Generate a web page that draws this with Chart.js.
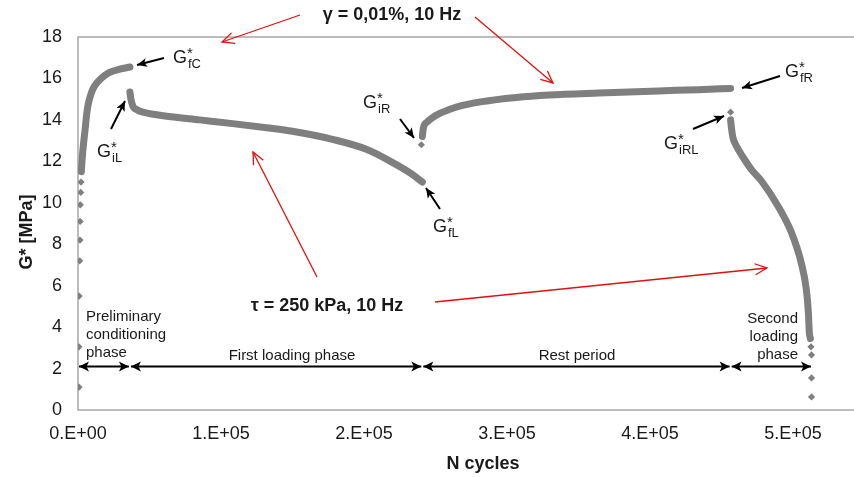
<!DOCTYPE html>
<html>
<head>
<meta charset="utf-8">
<script src="https://cdn.jsdelivr.net/npm/chart.js@4.4.0/dist/chart.umd.min.js"></script>
<style>
  html, body { margin: 0; padding: 0; background: #fff; overflow: hidden; }
  #wrap { width: 858px; height: 477px; position: relative; }
</style>
</head>
<body>
<div id="wrap"><canvas id="chart"></canvas></div>
<script>
// --- data (N cycles / G* MPa) ---
const xTickValues = [0, 100000, 200000, 300000, 400000, 500000];
const xTickLabels = ['0.E+00', '1.E+05', '2.E+05', '3.E+05', '4.E+05', '5.E+05'];
const xMax = 542700;

// preliminary conditioning: loose first points, then the dense climb
const nCondSparse = [700, 700, 800, 1200, 1400, 1500, 1600, 1900, 2100, 2300];
const gCondSparse = [1.1, 3.05, 5.5, 7.2, 8.2, 9.1, 9.9, 10.5, 11.0, 11.5];
const nCond = [2300, 2800, 3500, 4900, 6300, 7300, 8400, 10500, 12800, 15400, 18800, 22300, 29300, 36300];
const gCond = [11.5, 12.0, 12.6, 13.5, 14.4, 14.8, 15.1, 15.5, 15.75, 15.95, 16.15, 16.3, 16.45, 16.55];

// first loading phase
const nLoad1 = [36300, 37000, 38400, 41000, 45400, 55000, 62100, 85100, 108200, 131900, 150000, 178000, 201700, 219800, 233800, 240800];
const gLoad1 = [15.35, 15.0, 14.66, 14.5, 14.37, 14.25, 14.18, 14.0, 13.82, 13.62, 13.45, 13.06, 12.58, 11.95, 11.37, 11.0];

// rest period
const nRestFirst = [240100];
const gRestFirst = [12.8];
const nRest = [240800, 241500, 244200, 247700, 252600, 259600, 264500, 282600, 306400, 329400, 364300, 406100, 434000, 456400];
const gRest = [13.2, 13.6, 13.9, 14.1, 14.3, 14.5, 14.62, 14.88, 15.08, 15.2, 15.3, 15.4, 15.46, 15.52];

// second loading phase
const nLoad2First = [456400];
const gLoad2First = [14.37];
const nLoad2 = [456400, 457000, 458000, 460000, 462000, 466000, 471000, 478000, 489900, 499000, 505800, 509400, 510800, 511500, 512200];
const gLoad2 = [14.0, 13.6, 13.15, 12.8, 12.55, 12.1, 11.6, 11.05, 9.8, 8.56, 7.1, 5.8, 4.7, 3.7, 3.45];
const nLoad2Tail = [512600, 513000, 513000, 513000];
const gLoad2Tail = [3.05, 2.66, 1.55, 0.63];

// phase boundaries for the double arrows
const phaseBounds = [0, 36300, 240800, 456400, 513300];
const phaseArrowG = 2.1;

const grey = '#7f7f7f';
const pts = (xs, ys) => xs.map((x, i) => ({ x: x, y: ys[i] }));

const curve = (xs, ys) => ({
    data: pts(xs, ys),
    showLine: true,
    borderColor: grey,
    borderWidth: 7,
    cubicInterpolationMode: 'monotone',
    pointRadius: 0,
    borderCapStyle: 'round',
    borderJoinStyle: 'round'
});
const dots = (xs, ys) => ({
    data: pts(xs, ys),
    showLine: false,
    pointStyle: 'rectRot',
    pointRadius: 3.6,
    backgroundColor: grey,
    borderColor: grey,
    borderWidth: 0
});

function arrowHead(ctx, x1, y1, x2, y2, len, half, filled) {
    const ang = Math.atan2(y2 - y1, x2 - x1);
    const bx = x2 - len * Math.cos(ang), by = y2 - len * Math.sin(ang);
    const px = -Math.sin(ang) * half, py = Math.cos(ang) * half;
    ctx.beginPath();
    if (filled) {
        ctx.moveTo(x2, y2);
        ctx.lineTo(bx + px, by + py);
        ctx.lineTo(bx + (x2 - bx) * 0.25, by + (y2 - by) * 0.25);
        ctx.lineTo(bx - px, by - py);
        ctx.closePath();
        ctx.fill();
    } else {
        ctx.moveTo(bx + px, by + py);
        ctx.lineTo(x2, y2);
        ctx.lineTo(bx - px, by - py);
        ctx.stroke();
    }
}

function arrow(ctx, x1, y1, x2, y2, color, lw, filled) {
    ctx.strokeStyle = color;
    ctx.fillStyle = color;
    ctx.lineWidth = lw;
    ctx.beginPath();
    ctx.moveTo(x1, y1);
    ctx.lineTo(x2, y2);
    ctx.stroke();
    if (filled) arrowHead(ctx, x1, y1, x2, y2, 10, 4.5, true);
    else arrowHead(ctx, x1, y1, x2, y2, 12, 5.5, false);
}

function gLabel(ctx, x, y, sub) {
    ctx.fillStyle = '#1a1a1a';
    ctx.textAlign = 'left';
    ctx.textBaseline = 'alphabetic';
    ctx.font = '18px "Liberation Sans", Arial, sans-serif';
    ctx.fillText('G', x, y);
    const w = ctx.measureText('G').width;
    ctx.font = '15px "Liberation Sans", Arial, sans-serif';
    ctx.fillText('*', x + w, y - 5);
    ctx.font = '13px "Liberation Sans", Arial, sans-serif';
    ctx.fillText(sub, x + w + 1, y + 5);
}

const frame = {
    id: 'frame',
    beforeDatasetsDraw(chart) {
        const ctx = chart.ctx, a = chart.chartArea;
        ctx.save();
        ctx.strokeStyle = '#a6a6a6';
        ctx.lineWidth = 1.5;
        ctx.beginPath();
        ctx.moveTo(chart.width, a.top);
        ctx.lineTo(a.left, a.top);
        ctx.lineTo(a.left, a.bottom);
        ctx.lineTo(chart.width, a.bottom);
        ctx.stroke();
        ctx.restore();
    }
};

const notes = {
    id: 'notes',
    afterDraw(chart) {
        const ctx = chart.ctx;
        const xs = chart.scales.x, ys = chart.scales.y;
        ctx.save();

        // axis titles
        ctx.fillStyle = '#1a1a1a';
        ctx.font = 'bold 18px "Liberation Sans", Arial, sans-serif';
        ctx.textAlign = 'center';
        ctx.textBaseline = 'alphabetic';
        ctx.fillText('N cycles', 483, 469);
        ctx.save();
        ctx.translate(32, 232);
        ctx.rotate(-Math.PI / 2);
        ctx.fillText('G* [MPa]', 0, 0);
        ctx.restore();

        // loading conditions
        ctx.fillText('\u03b3 = 0,01%, 10 Hz', 392, 20);
        ctx.fillText('\u03c4 = 250 kPa, 10 Hz', 327, 311);

        // red arrows
        arrow(ctx, 300, 15, 222, 42, '#e01010', 1.3, false);
        arrow(ctx, 475, 17, 553, 83, '#e01010', 1.3, false);
        arrow(ctx, 317, 277, 253, 152, '#e01010', 1.3, false);
        arrow(ctx, 435, 302, 767, 268, '#e01010', 1.3, false);

        // black arrows to characteristic points
        arrow(ctx, 164, 58, 137, 65, '#000', 2, true);
        arrow(ctx, 111, 129, 125, 101, '#000', 2, true);
        arrow(ctx, 400, 119, 414, 138, '#000', 2, true);
        arrow(ctx, 440, 209, 426, 188, '#000', 2, true);
        arrow(ctx, 780, 76, 742, 88, '#000', 2, true);
        arrow(ctx, 693, 129, 724, 116, '#000', 2, true);

        gLabel(ctx, 173, 63, 'fC');
        gLabel(ctx, 97, 157, 'iL');
        gLabel(ctx, 363, 108, 'iR');
        gLabel(ctx, 433, 232, 'fL');
        gLabel(ctx, 785, 77, 'fR');
        gLabel(ctx, 664, 149, 'iRL');

        // phase double arrows
        const yA = ys.getPixelForValue(phaseArrowG);
        for (let i = 0; i < phaseBounds.length - 1; i++) {
            const x1 = xs.getPixelForValue(phaseBounds[i]) + 1;
            const x2 = xs.getPixelForValue(phaseBounds[i + 1]) - 1;
            ctx.strokeStyle = '#000';
            ctx.fillStyle = '#000';
            ctx.lineWidth = 2;
            ctx.beginPath();
            ctx.moveTo(x1, yA);
            ctx.lineTo(x2, yA);
            ctx.stroke();
            arrowHead(ctx, x2, yA, x1, yA, 10, 5, true);
            arrowHead(ctx, x1, yA, x2, yA, 10, 5, true);
        }

        // phase labels
        ctx.fillStyle = '#1a1a1a';
        ctx.font = '15px "Liberation Sans", Arial, sans-serif';
        ctx.textAlign = 'left';
        ctx.fillText('Preliminary', 86, 321);
        ctx.fillText('conditioning', 86, 339);
        ctx.fillText('phase', 86, 357);
        ctx.textAlign = 'center';
        ctx.fillText('First loading phase', 292, 360);
        ctx.fillText('Rest period', 577, 360);
        ctx.textAlign = 'right';
        ctx.fillText('Second', 798, 323);
        ctx.fillText('loading', 798, 341);
        ctx.fillText('phase', 798, 359);

        ctx.restore();
    }
};

new Chart(document.getElementById('chart'), {
    type: 'scatter',
    data: {
        datasets: [
            curve(nCond, gCond),
            curve(nLoad1, gLoad1),
            curve(nRest, gRest),
            curve(nLoad2, gLoad2),
            dots(nCondSparse, gCondSparse),
            dots(nRestFirst, gRestFirst),
            dots(nLoad2First, gLoad2First),
            dots(nLoad2Tail, gLoad2Tail)
        ]
    },
    options: {
        responsive: true,
        maintainAspectRatio: false,
        animation: false,
        layout: { padding: { top: 37, right: 0, left: 0, bottom: 0 } },
        plugins: {
            legend: { display: false },
            tooltip: { enabled: false }
        },
        scales: {
            x: {
                type: 'linear',
                min: 0,
                max: xMax,
                grid: { display: false, drawTicks: false },
                border: { display: false },
                afterBuildTicks: (scale) => {
                    scale.ticks = xTickValues.map(v => ({ value: v }));
                },
                afterFit: (scale) => { scale.height = 67; },
                ticks: {
                    padding: 13,
                    color: '#1a1a1a',
                    font: { family: '"Liberation Sans", Arial, sans-serif', size: 18 },
                    maxRotation: 0,
                    autoSkip: false,
                    callback: (v, i) => xTickLabels[i]
                }
            },
            y: {
                min: 0,
                max: 18,
                grid: { display: false, drawTicks: false },
                border: { display: false },
                afterFit: (scale) => { scale.width = 78; },
                ticks: {
                    stepSize: 2,
                    padding: 16,
                    color: '#1a1a1a',
                    font: { family: '"Liberation Sans", Arial, sans-serif', size: 18 }
                }
            }
        }
    },
    plugins: [frame, notes]
});
</script>
</body>
</html>
